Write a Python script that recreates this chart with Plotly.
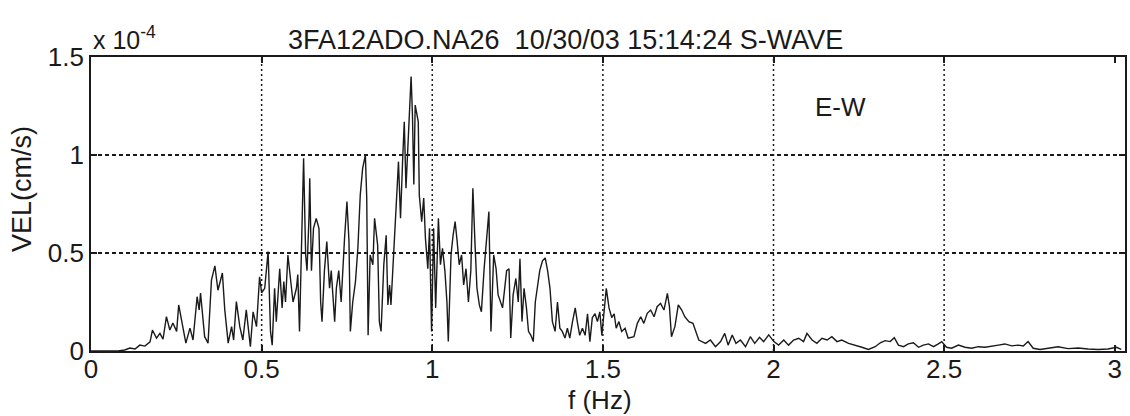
import plotly.graph_objects as go

# Frequency (Hz) and velocity spectrum amplitude (in units of 1e-4 cm/s)
FREQ_HZ = [
    0.000, 0.079, 0.099, 0.114, 0.129, 0.143, 0.158, 0.173, 0.180, 0.192, 0.202, 0.211, 0.221, 0.231,
    0.240, 0.251, 0.257, 0.265, 0.278, 0.290, 0.299, 0.311, 0.317, 0.321, 0.333, 0.343, 0.353, 0.363,
    0.372, 0.385, 0.392, 0.402, 0.412, 0.418, 0.426, 0.436, 0.445, 0.455, 0.467, 0.475, 0.485, 0.494,
    0.500, 0.509, 0.519, 0.526, 0.531, 0.538, 0.543, 0.553, 0.560, 0.565, 0.570, 0.577, 0.584, 0.592,
    0.602, 0.606, 0.611, 0.618, 0.623, 0.629, 0.633, 0.639, 0.641, 0.646, 0.652, 0.660, 0.668, 0.673,
    0.677, 0.684, 0.691, 0.699, 0.704, 0.714, 0.719, 0.726, 0.733, 0.743, 0.750, 0.756, 0.760, 0.767,
    0.775, 0.782, 0.789, 0.796, 0.804, 0.808, 0.812, 0.818, 0.826, 0.831, 0.836, 0.840, 0.845, 0.850,
    0.858, 0.865, 0.870, 0.875, 0.879, 0.884, 0.891, 0.897, 0.901, 0.907, 0.913, 0.918, 0.923, 0.928,
    0.934, 0.938, 0.942, 0.946, 0.950, 0.956, 0.959, 0.962, 0.969, 0.975, 0.980, 0.987, 0.992, 0.998,
    1.004, 1.010, 1.018, 1.024, 1.030, 1.037, 1.043, 1.047, 1.055, 1.061, 1.067, 1.073, 1.079, 1.086,
    1.092, 1.099, 1.106, 1.113, 1.119, 1.125, 1.131, 1.138, 1.144, 1.152, 1.160, 1.166, 1.172, 1.180,
    1.187, 1.193, 1.206, 1.218, 1.225, 1.230, 1.237, 1.245, 1.252, 1.257, 1.263, 1.269, 1.276, 1.282,
    1.289, 1.296, 1.302, 1.308, 1.315, 1.323, 1.331, 1.338, 1.345, 1.352, 1.360, 1.367, 1.374, 1.381,
    1.389, 1.396, 1.403, 1.411, 1.419, 1.425, 1.432, 1.440, 1.448, 1.455, 1.462, 1.469, 1.477, 1.484,
    1.491, 1.497, 1.503, 1.510, 1.518, 1.526, 1.533, 1.539, 1.547, 1.555, 1.565, 1.574, 1.591, 1.601,
    1.611, 1.620, 1.630, 1.640, 1.650, 1.659, 1.669, 1.679, 1.689, 1.695, 1.701, 1.711, 1.721, 1.731,
    1.740, 1.752, 1.764, 1.773, 1.781, 1.801, 1.815, 1.830, 1.845, 1.857, 1.867, 1.879, 1.890, 1.903,
    1.918, 1.932, 1.945, 1.959, 1.971, 1.986, 2.001, 2.015, 2.030, 2.044, 2.059, 2.074, 2.088, 2.098,
    2.113, 2.127, 2.142, 2.157, 2.171, 2.186, 2.200, 2.220, 2.240, 2.259, 2.278, 2.298, 2.313, 2.327,
    2.342, 2.354, 2.366, 2.381, 2.395, 2.410, 2.425, 2.439, 2.454, 2.469, 2.483, 2.493, 2.507, 2.522,
    2.542, 2.561, 2.581, 2.600, 2.620, 2.639, 2.659, 2.678, 2.698, 2.717, 2.732, 2.746, 2.761, 2.781,
    2.805, 2.834, 2.863, 2.893, 2.922, 2.951, 2.980, 3.005, 3.019,
]
VEL_E4 = [
    0.000, 0.000, 0.005, 0.015, 0.010, 0.030, 0.025, 0.047, 0.107, 0.066, 0.090, 0.060, 0.175, 0.107,
    0.143, 0.100, 0.235, 0.158, 0.040, 0.117, 0.056, 0.277, 0.209, 0.296, 0.073, 0.040, 0.362, 0.434,
    0.310, 0.398, 0.210, 0.040, 0.124, 0.056, 0.252, 0.124, 0.056, 0.210, 0.022, 0.200, 0.124, 0.379,
    0.296, 0.320, 0.507, 0.100, 0.030, 0.320, 0.150, 0.420, 0.220, 0.354, 0.250, 0.490, 0.370, 0.250,
    0.320, 0.390, 0.100, 0.694, 0.983, 0.490, 0.410, 0.694, 0.881, 0.410, 0.626, 0.677, 0.626, 0.250,
    0.150, 0.410, 0.558, 0.320, 0.410, 0.150, 0.320, 0.410, 0.250, 0.575, 0.762, 0.558, 0.100, 0.250,
    0.354, 0.524, 0.796, 0.932, 1.000, 0.780, 0.080, 0.490, 0.440, 0.677, 0.590, 0.540, 0.150, 0.100,
    0.440, 0.590, 0.235, 0.337, 0.235, 0.420, 0.626, 0.830, 0.966, 0.677, 0.966, 1.170, 0.830, 1.034,
    1.306, 1.400, 1.204, 0.850, 1.255, 1.190, 1.170, 0.796, 0.660, 0.780, 0.575, 0.420, 0.626, 0.100,
    0.626, 0.220, 0.677, 0.440, 0.524, 0.410, 0.250, 0.048, 0.490, 0.590, 0.660, 0.558, 0.440, 0.490,
    0.337, 0.420, 0.250, 0.410, 0.830, 0.558, 0.320, 0.235, 0.200, 0.420, 0.590, 0.711, 0.100, 0.490,
    0.420, 0.286, 0.220, 0.410, 0.420, 0.066, 0.286, 0.370, 0.250, 0.470, 0.150, 0.320, 0.220, 0.100,
    0.080, 0.048, 0.250, 0.320, 0.410, 0.460, 0.475, 0.410, 0.320, 0.150, 0.100, 0.250, 0.116, 0.100,
    0.066, 0.116, 0.066, 0.150, 0.220, 0.150, 0.080, 0.116, 0.080, 0.190, 0.048, 0.170, 0.190, 0.150,
    0.200, 0.080, 0.190, 0.320, 0.220, 0.170, 0.190, 0.116, 0.150, 0.100, 0.116, 0.066, 0.073, 0.141,
    0.175, 0.141, 0.192, 0.209, 0.175, 0.226, 0.243, 0.209, 0.294, 0.226, 0.073, 0.124, 0.235, 0.209,
    0.175, 0.150, 0.141, 0.090, 0.056, 0.039, 0.056, 0.022, 0.048, 0.090, 0.030, 0.082, 0.039, 0.056,
    0.022, 0.073, 0.039, 0.070, 0.048, 0.082, 0.048, 0.030, 0.056, 0.030, 0.056, 0.065, 0.048, 0.090,
    0.056, 0.039, 0.065, 0.056, 0.073, 0.048, 0.056, 0.039, 0.030, 0.019, 0.008, 0.022, 0.042, 0.053,
    0.048, 0.068, 0.030, 0.022, 0.036, 0.042, 0.019, 0.030, 0.036, 0.022, 0.036, 0.048, 0.019, 0.014,
    0.030, 0.019, 0.014, 0.022, 0.019, 0.026, 0.030, 0.036, 0.026, 0.030, 0.026, 0.048, 0.014, 0.008,
    0.014, 0.022, 0.012, 0.015, 0.010, 0.008, 0.010, 0.019, 0.008,
]
SCALE = 1e-4

X_TICKS = [0, 0.5, 1, 1.5, 2, 2.5, 3]
X_TICK_TEXT = ["0", "0.5", "1", "1.5", "2", "2.5", "3"]
X_GRID = [0.5, 1, 1.5, 2, 2.5]
Y_TICKS = [0, 0.5, 1, 1.5]
Y_TICK_TEXT = ["0", "0.5", "1", "1.5"]

TITLE = "3FA12ADO.NA26  10/30/03 15:14:24 S-WAVE"
FONT = "Liberation Sans, Arial, Helvetica, sans-serif"
INK = "#1a1a1a"

fig = go.Figure()
fig.add_trace(go.Scatter(
    x=FREQ_HZ, y=[v * SCALE for v in VEL_E4], mode="lines",
    line=dict(color=INK, width=1.4), showlegend=False, hoverinfo="skip",
))

shapes = []
for gx in X_GRID:
    shapes.append(dict(type="line", xref="x", yref="paper", x0=gx, x1=gx, y0=0, y1=1,
                       line=dict(color=INK, width=1.5, dash="2px,3px"), layer="below"))

fig.update_layout(
    width=1130, height=416,
    margin=dict(l=91, r=3, t=57, b=65),
    paper_bgcolor="white", plot_bgcolor="white",
    font=dict(family=FONT, size=25, color=INK),
    shapes=shapes,
    xaxis=dict(
        range=[0, 3.03], tickvals=X_TICKS, ticktext=X_TICK_TEXT,
        showgrid=False, zeroline=False,
        showline=True, linecolor=INK, linewidth=1.8, mirror="ticks",
        ticks="inside", ticklen=6, tickcolor=INK, tickwidth=1.5,
        tickfont=dict(size=26), ticklabelstandoff=-6,
    ),
    yaxis=dict(
        range=[0, 1.5 * SCALE], tickvals=[t * SCALE for t in Y_TICKS], ticktext=Y_TICK_TEXT,
        showgrid=True, gridcolor=INK, gridwidth=1.5, griddash="4px,3px", zeroline=False,
        showline=True, linecolor=INK, linewidth=1.8, mirror="ticks",
        ticks="inside", ticklen=6, tickcolor=INK, tickwidth=1.5,
        tickfont=dict(size=26),
    ),
    annotations=[
        dict(text=TITLE, xref="paper", yref="paper", x=0.4585, y=1.058, xanchor="center",
             yanchor="middle", showarrow=False, font=dict(size=27)),
        dict(text="x 10<sup>-4</sup>", xref="paper", yref="paper", x=0.0, y=1.005, xanchor="left",
             yanchor="bottom", showarrow=False, font=dict(size=25)),
        dict(text="E-W", xref="paper", yref="paper", x=0.725, y=0.83, xanchor="center",
             yanchor="middle", showarrow=False, font=dict(size=26)),
        dict(text="VEL(cm/s)", xref="paper", yref="paper", x=-0.066, y=0.55, xanchor="center",
             yanchor="middle", textangle=-90, showarrow=False, font=dict(size=27)),
        dict(text="f (Hz)", xref="paper", yref="paper", x=0.492, y=-0.166, xanchor="center",
             yanchor="middle", showarrow=False, font=dict(size=26)),
    ],
)

fig.write_html("out.html")
